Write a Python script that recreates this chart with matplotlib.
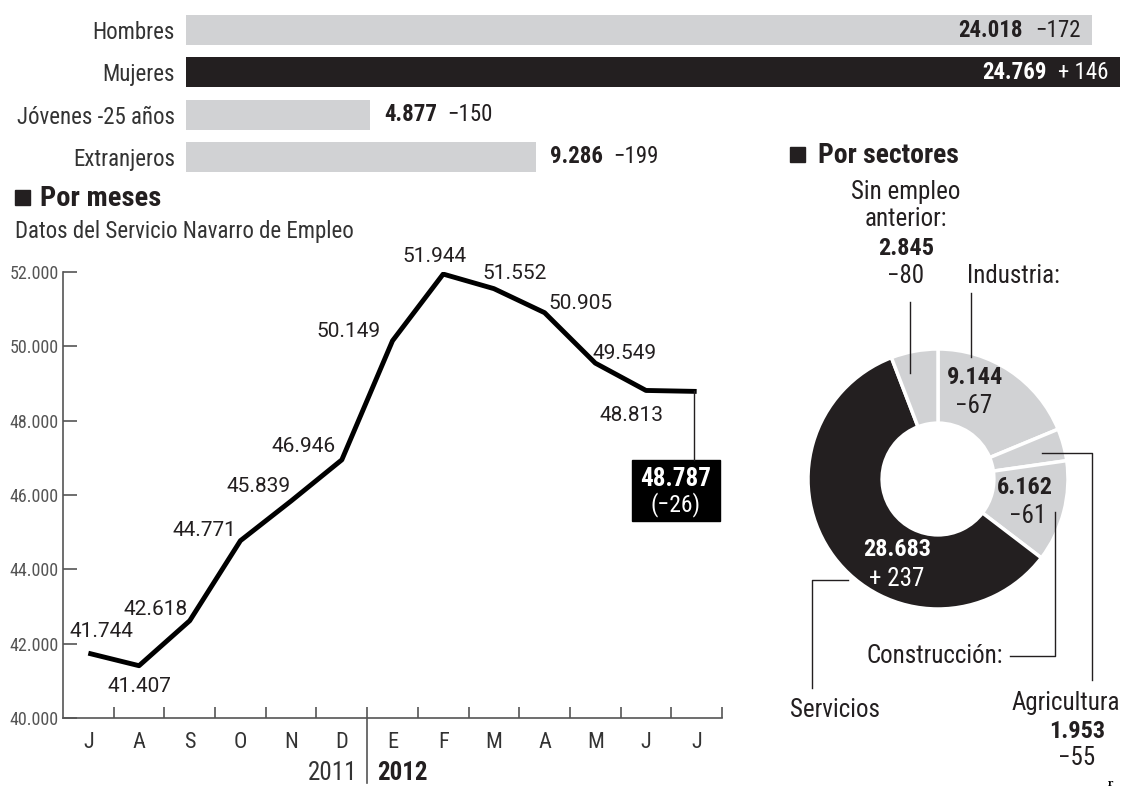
import matplotlib
matplotlib.use('Agg')
import matplotlib.pyplot as plt
import matplotlib.transforms as mtransforms
from matplotlib import font_manager as fm
from matplotlib.patches import Rectangle
import numpy as np

# --- datos ---
grupos = ['Hombres', 'Mujeres', 'Jóvenes -25 años', 'Extranjeros']
grupos_valor = [24018, 24769, 4877, 9286]
grupos_var = ['−172', '+ 146', '−150', '−199']

meses = ['J', 'A', 'S', 'O', 'N', 'D', 'E', 'F', 'M', 'A', 'M', 'J', 'J']
parados = [41744, 41407, 42618, 44771, 45839, 46946, 50149,
           51944, 51552, 50905, 49549, 48813, 48787]
ultima_var = '(−26)'

sectores = ['Industria', 'Agricultura', 'Construcción', 'Servicios', 'Sin empleo anterior']
sectores_valor = [9144, 1953, 6162, 28683, 2845]
sectores_var = ['−67', '−55', '−61', '+ 237', '−80']

GRIS = '#d1d2d4'
NEGRO = '#231f20'
TXT = '#231f20'


def fmt(v):
    return f'{v:,}'.replace(',', '.')


# fuente estrecha si existe
nombres = {f.name for f in fm.fontManager.ttflist}
FONT = 'DejaVu Sans'
for cand in ['Roboto Condensed', 'DejaVu Sans Condensed', 'Liberation Sans Narrow']:
    if cand in nombres:
        FONT = cand
        break
ANCHA = 'Roboto' if 'Roboto' in nombres else FONT
plt.rcParams['font.family'] = [FONT, 'DejaVu Sans']

W, H = 1125, 789
fig = plt.figure(figsize=(W / 100, H / 100), dpi=100)


def box(x0, y0, x1, y1):
    return [x0 / W, 1 - y1 / H, (x1 - x0) / W, (y1 - y0) / H]


renderer = fig.canvas.get_renderer()

# --- barras superiores ---
ax_b = fig.add_axes(box(186, 9, 1120, 178))
ypos = np.arange(len(grupos))
colores_b = [GRIS, NEGRO, GRIS, GRIS]
ax_b.barh(ypos, grupos_valor, height=0.71, color=colores_b)
ax_b.set_xlim(0, max(grupos_valor))
ax_b.set_ylim(3.5, -0.5)
for s in ax_b.spines.values():
    s.set_visible(False)
ax_b.set_xticks([])
ax_b.set_yticks(ypos, grupos)
ax_b.tick_params(axis='y', length=0, pad=8, labelsize=16.5, labelcolor='#333333')

for i, (v, d) in enumerate(zip(grupos_valor, grupos_var)):
    dentro = v > 15000
    col = 'white' if colores_b[i] == NEGRO else TXT
    if dentro:
        t2 = ax_b.annotate(d, (v, i), xytext=(-11, 0), textcoords='offset pixels',
                           ha='right', va='center', fontsize=16.5, color=col)
        w2 = t2.get_window_extent(renderer).width
        ax_b.annotate(fmt(v), (v, i), xytext=(-11 - w2 - 12, 0), textcoords='offset pixels',
                      ha='right', va='center', fontsize=16.5, fontweight='bold', color=col)
    else:
        t1 = ax_b.annotate(fmt(v), (v, i), xytext=(14, 0), textcoords='offset pixels',
                           ha='left', va='center', fontsize=16.5, fontweight='bold', color=TXT)
        w1 = t1.get_window_extent(renderer).width
        ax_b.annotate(d, (v, i), xytext=(14 + w1 + 10, 0), textcoords='offset pixels',
                      ha='left', va='center', fontsize=16.5, color=TXT)

# --- línea por meses ---
ax_l = fig.add_axes(box(63, 272, 722, 718))
x = np.arange(len(meses))
ax_l.plot(x, parados, color='black', lw=3.5, solid_joinstyle='round', solid_capstyle='butt')
ax_l.set_xlim(-0.5, 12.5)
ax_l.set_ylim(40000, 52000)
for s in ['top', 'right']:
    ax_l.spines[s].set_visible(False)
for s in ['left', 'bottom']:
    ax_l.spines[s].set_color('#555555')
    ax_l.spines[s].set_linewidth(1.2)
yt = np.arange(40000, 52001, 2000)
ax_l.set_yticks(yt, [fmt(v) for v in yt])
ax_l.tick_params(axis='y', direction='in', length=10, width=1.2, color='#555555',
                 labelsize=13, labelcolor='#555555', pad=3)
ax_l.set_xticks(x, meses)
ax_l.set_xticks(np.arange(0.5, 12.6, 1), minor=True)
ax_l.tick_params(axis='x', which='major', length=0, pad=10, labelsize=16, labelcolor='#333333')
ax_l.tick_params(axis='x', which='minor', direction='in', length=8, width=1.2, color='#555555')

blend = mtransforms.blended_transform_factory(ax_l.transData, ax_l.transAxes)
ax_l.plot([5.5, 5.5], [0, -0.145], transform=blend, color='#555555', lw=1.2, clip_on=False)
ax_l.annotate('2011', (5.5, 0), xycoords=blend, xytext=(-10, -55), textcoords='offset pixels',
              ha='right', va='center', fontsize=18, color='#333333')
ax_l.annotate('2012', (5.5, 0), xycoords=blend, xytext=(10, -55), textcoords='offset pixels',
              ha='left', va='center', fontsize=18, fontweight='bold', color=TXT)

# desplazamientos de las etiquetas (px, y hacia arriba)
offs = [(13, 22), (0, -21), (-34, 11), (-36, 10), (-33, 14), (-38, 13), (-44, 9),
        (-9, 18), (21, 15), (36, 9), (29, 10), (-14, -25)]
for i, (v, o) in enumerate(zip(parados[:-1], offs)):
    ax_l.annotate(fmt(v), (i, v), xytext=o, textcoords='offset pixels',
                  ha='center', va='center', fontsize=15, family=ANCHA, color=TXT)

# --- donut por sectores ---
ax_d = fig.add_axes(box(798, 339, 1078, 619))
colores_d = [GRIS, GRIS, GRIS, NEGRO, GRIS]
ax_d.pie(sectores_valor, startangle=90, counterclock=False, colors=colores_d,
         wedgeprops=dict(width=0.57, edgecolor='white', linewidth=2.5))
ax_d.set_xlim(-1.0769, 1.0769)
ax_d.set_ylim(-1.0769, 1.0769)
ax_d.set_aspect('equal')
ax_d.axis('off')

# --- capa de textos y guías ---
ov = fig.add_axes([0, 0, 1, 1])
ov.set_xlim(0, W)
ov.set_ylim(H, 0)
ov.axis('off')
ov.patch.set_alpha(0)

# títulos
ov.add_patch(Rectangle((15, 190), 15, 15, color=NEGRO))
ov.text(40, 198, 'Por meses', fontsize=20.5, fontweight='bold', va='center', color=TXT)
ov.text(15, 231, 'Datos del Servicio Navarro de Empleo', fontsize=16.5, va='center', color='#333333')
ov.add_patch(Rectangle((790, 147), 15, 15, color=NEGRO))
ov.text(818, 155, 'Por sectores', fontsize=20, fontweight='bold', va='center', color=TXT)

# caja del último dato
px, py = ax_l.transData.transform((len(parados) - 1, parados[-1]))
py = H - py
ov.plot([px - 3, px - 3], [py, py + 69], color=TXT, lw=1)
ov.add_patch(Rectangle((px - 65, py + 69), 88, 61, color='black'))
ov.text(px - 21, py + 88, fmt(parados[-1]), fontsize=18, fontweight='bold', color='white',
        ha='center', va='center')
ov.text(px - 21, py + 113, ultima_var, fontsize=17, color='white', ha='center', va='center')

# etiquetas del donut
ind, agr, con, ser, sin = range(5)
BIG = 17.5
MED = 18
ov.text(975, 377, fmt(sectores_valor[ind]), fontsize=BIG, fontweight='bold', ha='center', va='center', color=TXT)
ov.text(974, 406, sectores_var[ind], fontsize=MED, ha='center', va='center', color=TXT)
ov.text(1025, 487, fmt(sectores_valor[con]), fontsize=BIG, fontweight='bold', ha='center', va='center', color=TXT)
ov.text(1028, 516, sectores_var[con], fontsize=MED, ha='center', va='center', color=TXT)
ov.text(897, 550, fmt(sectores_valor[ser]), fontsize=BIG, fontweight='bold', ha='center', va='center', color='white')
ov.text(897, 579, sectores_var[ser], fontsize=MED, ha='center', va='center', color='white')

# Sin empleo anterior
ov.text(906, 192, 'Sin empleo', fontsize=MED, ha='center', va='center', color=TXT)
ov.text(906, 219, 'anterior:', fontsize=MED, ha='center', va='center', color=TXT)
ov.text(906, 248, fmt(sectores_valor[sin]), fontsize=BIG, fontweight='bold', ha='center', va='center', color=TXT)
ov.text(906, 276, sectores_var[sin], fontsize=MED, ha='center', va='center', color=TXT)
ov.plot([910, 910], [302, 373], color=TXT, lw=1)

# Industria
ov.text(1013, 276, 'Industria:', fontsize=MED, ha='center', va='center', color=TXT)
ov.plot([971, 971], [293, 357], color=TXT, lw=1)

# Agricultura
ov.plot([1042, 1092, 1092], [453, 453, 680], color=TXT, lw=1)
ov.text(1066, 703, 'Agricultura', fontsize=MED, ha='center', va='center', color=TXT)
ov.text(1077, 731, fmt(sectores_valor[agr]), fontsize=BIG, fontweight='bold', ha='center', va='center', color=TXT)
ov.text(1077, 758, sectores_var[agr], fontsize=MED, ha='center', va='center', color=TXT)

# Construcción
ov.text(1003, 656, 'Construcción:', fontsize=MED, ha='right', va='center', color=TXT)
ov.plot([1010, 1055, 1055], [656, 656, 512], color=TXT, lw=1)

# Servicios
ov.plot([848, 812, 812], [580, 580, 688], color=TXT, lw=1)
ov.text(835, 710, 'Servicios', fontsize=MED, ha='center', va='center', color=TXT)

ov.text(1110, 784, 'r', fontsize=7, fontweight='bold', family='DejaVu Serif', ha='center', va='center')

fig.savefig('out.png', dpi=100)
